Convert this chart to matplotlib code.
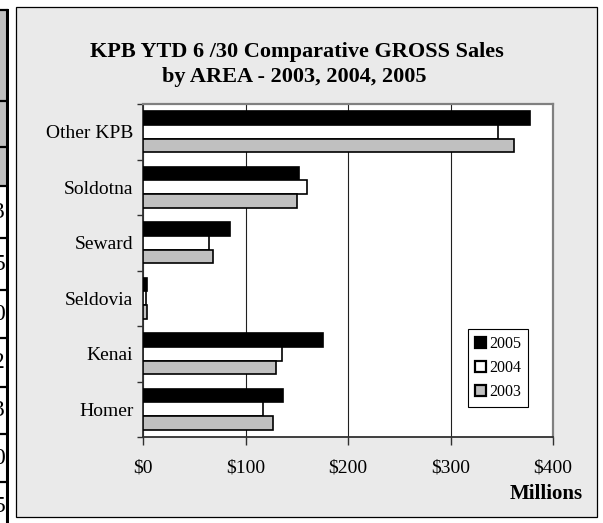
import numpy as np
import matplotlib.pyplot as plt
from matplotlib.patches import Rectangle, Patch

plt.rcParams['font.family'] = ['Liberation Serif', 'DejaVu Serif']

areas = ["Homer", "Kenai", "Seldovia", "Seward", "Soldotna", "Other KPB"]
years = ["2005", "2004", "2003"]
sales_2005 = [137, 176, 3.5, 85, 152, 378]
sales_2004 = [117, 136, 3, 64, 160, 346]
sales_2003 = [127, 130, 3.5, 68, 150, 362]
x_ticks = [0, 100, 200, 300, 400]
x_tick_labels = ["$0", "$100", "$200", "$300", "$400"]
year_colors = ["black", "white", "#c0c0c0"]

# bits of the spreadsheet column that got cut off at the left edge
edge_digits = ["3", "5", "0", "2", "3", "0", "5"]

W, H = 603, 523
fig = plt.figure(figsize=(W / 100, H / 100), dpi=100)
fig.patch.set_facecolor("white")


def px(x0, y0, x1, y1):
    """figure-fraction rect from pixel corners (top-left origin)"""
    return [x0 / W, 1 - y1 / H, (x1 - x0) / W, (y1 - y0) / H]


# chart frame
r = px(16, 7, 597, 517)
fig.patches.append(Rectangle((r[0], r[1]), r[2], r[3], transform=fig.transFigure,
                             facecolor="#eaeaea", edgecolor="black", lw=0.9,
                             zorder=-5))

# left strip with the cut-off table
strip = fig.add_axes(px(0, 0, 9, H))
strip.set_xlim(0, 9)
strip.set_ylim(H, 0)
strip.axis("off")
row_lines = [10, 101, 147, 186, 238, 290, 338, 387, 434, 482, 530]
for top, bot in zip(row_lines[:3], row_lines[1:4]):
    strip.add_patch(Rectangle((0, top), 7, bot - top, facecolor="#c0c0c0", edgecolor="none"))
for y in row_lines:
    strip.plot([0, 7], [y, y], color="black", lw=1.6)
strip.plot([7.3, 7.3], [10, H], color="black", lw=2.2)
for d, top, bot in zip(edge_digits, row_lines[3:], row_lines[4:]):
    strip.text(5, (top + bot) / 2, d, ha="right", va="center", fontsize=17,
               clip_on=True)

# plot area
ax = fig.add_axes(px(143, 104, 553, 437))
ax.set_facecolor("white")
y = np.arange(len(areas))
h = 0.245
for vals, yr, col, off in zip([sales_2005, sales_2004, sales_2003], years, year_colors, [h, 0, -h]):
    ax.barh(y + off, vals, height=h, color=col, edgecolor="black", lw=1.2, label=yr, zorder=3)

ax.set_xlim(0, 400)
ax.set_ylim(-0.5, len(areas) - 0.5)
ax.set_xticks(x_ticks, x_tick_labels, fontsize=14)
ax.set_yticks(np.arange(len(areas) + 1) - 0.5, [])
ax.set_yticks(y, areas, minor=True, fontsize=14)
ax.tick_params(axis="x", direction="out", length=5.5, width=1, color="#303030", pad=11)
ax.tick_params(axis="y", which="major", direction="out", length=4.5, width=1, color="#303030")
ax.tick_params(axis="y", which="minor", length=0, pad=7)
ax.grid(axis="x", color="#202020", lw=0.8, zorder=1)

for side in ["top", "right"]:
    ax.spines[side].set_color("#808080")
    ax.spines[side].set_linewidth(1.6)
for side in ["left", "bottom"]:
    ax.spines[side].set_color("#303030")
    ax.spines[side].set_linewidth(1.3)

handles = [Patch(facecolor=c, edgecolor="black", lw=1.6) for c in year_colors]
leg = ax.legend(handles, years, loc="lower right", bbox_to_anchor=(0.94, 0.09),
                borderaxespad=0, fontsize=11.5, handlelength=0.7, handleheight=0.7,
                handletextpad=0.2, labelspacing=0.5, borderpad=0.45, fancybox=False,
                framealpha=1, edgecolor="black")
leg.get_frame().set_linewidth(0.8)
leg.set_zorder(5)

fig.text(297 / W, 1 - 52 / H, "KPB YTD 6 /30 Comparative GROSS Sales",
         ha="center", va="center", fontsize=16, fontweight="bold")
fig.text(294 / W, 1 - 77 / H, "by AREA - 2003, 2004, 2005",
         ha="center", va="center", fontsize=16, fontweight="bold")
fig.text(583 / W, 1 - 494 / H, "Millions", ha="right", va="center",
         fontsize=15, fontweight="bold")

fig.savefig("out.png", dpi=100)
